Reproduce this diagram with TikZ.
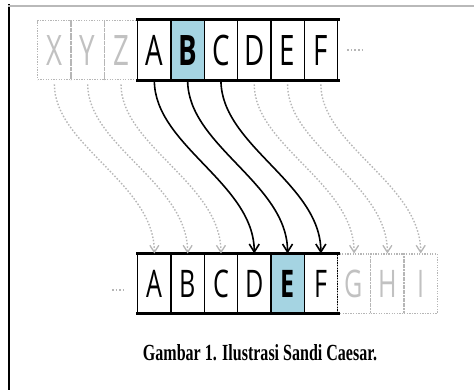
\documentclass[tikz,border=0pt]{standalone}
\usepackage{fontspec}
\usepackage{graphicx}
\usetikzlibrary{arrows.meta}
\newfontfamily\cellfont{Open Sans}
\newfontfamily\capfont{Liberation Serif}
\definecolor{hilite}{RGB}{165,212,226}
\definecolor{ghost}{RGB}{182,182,182}
% a letter in a cell: size, text
\newcommand\glyph[2]{\scalebox{0.66}[1]{\fontsize{#1}{#1}\selectfont\cellfont #2}}

\begin{document}
\begin{tikzpicture}[x=1pt,y=-1pt,
  cellbox/.style={draw=black, line width=1.4pt, minimum width=33.3pt,
    minimum height=59pt, inner sep=0pt, anchor=north west},
  ghostbox/.style={draw=ghost, line width=1.3pt, dash pattern=on 1.3pt off 1.3pt,
    minimum width=33.3pt, minimum height=59pt, inner sep=0pt,
    anchor=north west, text=ghost!85},
  rim/.style={line width=3pt, line cap=rect},
  shiftarrow/.style={black, line width=1.6pt,
    -{Straight Barb[length=8pt,width=10pt,line width=1.6pt]}},
  ghostarrow/.style={ghost, line width=1.4pt, dash pattern=on 1.5pt off 1.8pt,
    shorten <=4pt, -{Straight Barb[length=7pt,width=9pt,line width=1.3pt]}},
  moredots/.style={ghost, line width=1.6pt, dash pattern=on 1.6pt off 2pt},
]
\useasboundingbox (0,0) rectangle (474,390);

% page frame
\draw[black, line width=2pt] (8.5,4) -- (8.5,390);
\draw[gray!55, line width=1.5pt] (8,6) -- (474,6);

% plain alphabet (top row)
\foreach \l [count=\i from 0] in {X,Y,Z}
  \node[ghostbox] (t\l) at ({37.1+33.3*\i},20) {\glyph{42}{\l}};
\foreach \l [count=\i from 0] in {A,C,D,E,F}
  \node[cellbox] (t\l) at ({137+33.3*(\i+(\i>0))},20) {\glyph{42}{\l}};
\node[cellbox, fill=hilite] (tB) at (170.3,20) {\glyph{42}{\bfseries B}};
\draw[rim] (tA.north west) -- (tF.north east);
\draw[rim] (tA.south west) -- (tF.south east);
\draw[moredots] ([xshift=9pt]tF.east) -- ++(16,0);

% shifted alphabet (bottom row)
\foreach \l [count=\i from 0] in {A,B,C,D,F}
  \node[cellbox] (b\l) at ({137+33.3*(\i+(\i>3))},253.5) {\glyph{38}{\l}};
\node[cellbox, fill=hilite] (bE) at (270.2,253.5) {\glyph{38}{\bfseries E}};
\foreach \l [count=\i from 0] in {G,H,I}
  \node[ghostbox] (b\l) at ({336.8+33.3*\i},253.5) {\glyph{38}{\l}};
\draw[rim] (bA.north west) -- (bF.north east);
\draw[rim] (bA.south west) -- (bF.south east);
\draw[moredots] ([xshift=-25pt,yshift=-6pt]bA.west) -- ++(13,0);

% shift by three
\foreach \s/\e in {X/A,Y/B,Z/C,D/G,E/H,F/I}
  \draw[ghostarrow] (t\s.south) .. controls +(0,65) and +(0,-70) .. (b\e.north);
\foreach \s/\e in {A/D,B/E,C/F}
  \draw[shiftarrow] (t\s.south) .. controls +(0,65) and +(0,-70) .. (b\e.north);

% caption
\node[anchor=base, inner sep=0pt] (cap) at (260,360)
  {\resizebox{234pt}{16pt}{\capfont\bfseries Gambar 1. Ilustrasi Sandi Caesar.}};
\end{tikzpicture}
\end{document}
